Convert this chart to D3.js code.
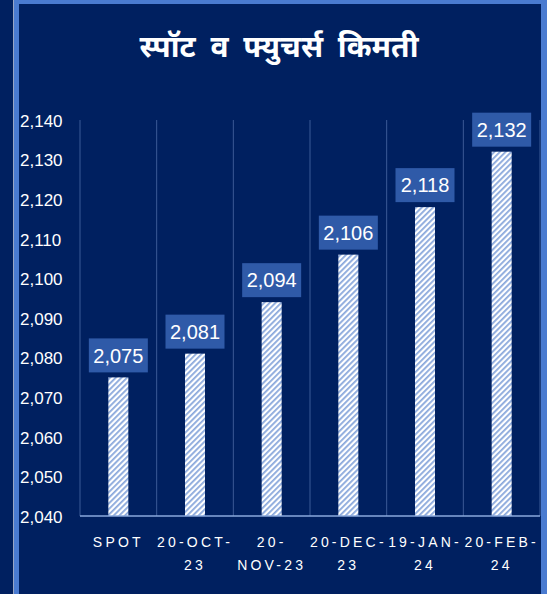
<!DOCTYPE html>
<html>
<head>
<meta charset="utf-8">
<script src="https://cdn.jsdelivr.net/npm/d3@7"></script>
<style>
  body { margin: 0; background: #002060; }
  svg { display: block; }
</style>
</head>
<body>
<div id="chart"></div>
<script>
// spot vs futures prices

var categories = ["SPOT", "20-OCT-23", "20-NOV-23", "20-DEC-23", "19-JAN-24", "20-FEB-24"];
var tickLines = [["SPOT"], ["20-OCT-", "23"], ["20-", "NOV-23"], ["20-DEC-", "23"], ["19-JAN-", "24"], ["20-FEB-", "24"]];
var prices = [2075, 2081, 2094, 2106, 2118, 2132];
var yTicks = [2040, 2050, 2060, 2070, 2080, 2090, 2100, 2110, 2120, 2130, 2140];
var title = "स्पॉट व फ्युचर्स किमती";

var width = 547, height = 594;
var navy = "#002060";

var xScale = d3.scaleBand().domain(categories).range([80, 540]);
var yScale = d3.scaleLinear().domain([2040, 2140]).range([516, 120]);

var svg = d3.select("#chart")
    .append("svg")
    .attr("width", width)
    .attr("height", height);

// stripe pattern for the bars
var pat = svg.append("defs")
    .append("pattern")
    .attr("id", "stripes")
    .attr("patternUnits", "userSpaceOnUse")
    .attr("width", 4)
    .attr("height", 4)
    .attr("patternTransform", "rotate(45)");
pat.append("rect").attr("width", 4).attr("height", 4).attr("fill", "#ffffff");
pat.append("rect").attr("width", 1.8).attr("height", 4).attr("fill", "#8aa8dc");

svg.append("rect")
    .attr("width", width)
    .attr("height", height)
    .attr("fill", navy);

// frame
svg.append("rect").attr("x", 13).attr("y", 0).attr("width", 1).attr("height", height).attr("fill", "#9aa6c4");
svg.append("rect").attr("x", 14).attr("y", 0).attr("width", 5).attr("height", height).attr("fill", "#4a7bd0");
svg.append("rect").attr("x", 14).attr("y", 0).attr("width", width - 14).attr("height", 4).attr("fill", "#4a7bd0");
svg.append("rect").attr("x", 541).attr("y", 0).attr("width", 6).attr("height", height).attr("fill", "#4a7bd0");

svg.append("text")
    .attr("x", 279)
    .attr("y", 57)
    .attr("text-anchor", "middle")
    .attr("fill", "#ffffff")
    .attr("font-family", "'Noto Sans Devanagari', 'Noto Sans', sans-serif")
    .attr("font-size", 30)
    .attr("font-weight", "bold")
    .attr("word-spacing", 7)
    .text(title);

// category separators
var seps = categories.map(function(c) { return xScale(c); }).concat([xScale.range()[1]]);
svg.append("g")
    .selectAll("line")
    .data(seps)
    .enter()
    .append("line")
    .attr("x1", function(d) { return d; })
    .attr("x2", function(d) { return d; })
    .attr("y1", yScale(2140))
    .attr("y2", yScale(2040))
    .attr("stroke", "#3b5a96")
    .attr("stroke-width", 1);

// y tick labels
svg.append("g")
    .selectAll("text")
    .data(yTicks)
    .enter()
    .append("text")
    .attr("x", 20)
    .attr("y", function(d) { return yScale(d); })
    .attr("dy", "0.4em")
    .attr("fill", "#ffffff")
    .attr("font-family", "'Liberation Sans Narrow', 'Liberation Sans', sans-serif")
    .attr("font-size", 17)
    .text(d3.format(","));

// bars
var barW = 20;
svg.append("g")
    .selectAll("rect")
    .data(prices)
    .enter()
    .append("rect")
    .attr("x", function(d, i) { return xScale(categories[i]) + xScale.bandwidth() / 2 - barW / 2; })
    .attr("y", function(d) { return yScale(d); })
    .attr("width", barW)
    .attr("height", function(d) { return yScale(2040) - yScale(d); })
    .attr("fill", "url(#stripes)");

// axis line
svg.append("line")
    .attr("x1", 80)
    .attr("x2", 540)
    .attr("y1", yScale(2040))
    .attr("y2", yScale(2040))
    .attr("stroke", "#8aa8dc")
    .attr("stroke-width", 1.5);

// data labels
var lab = svg.append("g")
    .selectAll("g")
    .data(prices)
    .enter()
    .append("g")
    .attr("transform", function(d, i) {
        return "translate(" + (xScale(categories[i]) + xScale.bandwidth() / 2) + "," + (yScale(d) - 22) + ")";
    });
lab.append("rect")
    .attr("x", -29.5)
    .attr("y", -17)
    .attr("width", 59)
    .attr("height", 34)
    .attr("fill", "#2f5aa8");
lab.append("text")
    .attr("text-anchor", "middle")
    .attr("dy", "0.36em")
    .attr("fill", "#ffffff")
    .attr("font-family", "'Liberation Sans Narrow', 'Liberation Sans', sans-serif")
    .attr("font-size", 20)
    .text(d3.format(","));

// x tick labels
var xl = svg.append("g")
    .selectAll("text")
    .data(tickLines)
    .enter()
    .append("text")
    .attr("x", function(d, i) { return xScale(categories[i]) + xScale.bandwidth() / 2; })
    .attr("y", 547)
    .attr("text-anchor", "middle")
    .attr("fill", "#ffffff")
    .attr("font-family", "'Liberation Sans', sans-serif")
    .attr("font-size", 14)
    .attr("letter-spacing", 3.2);
xl.selectAll("tspan")
    .data(function(d) { return d; })
    .enter()
    .append("tspan")
    .attr("x", function() { return d3.select(this.parentNode).attr("x"); })
    .attr("dy", function(d, j) { return j === 0 ? 0 : 23; })
    .text(function(d) { return d; });
</script>
</body>
</html>
